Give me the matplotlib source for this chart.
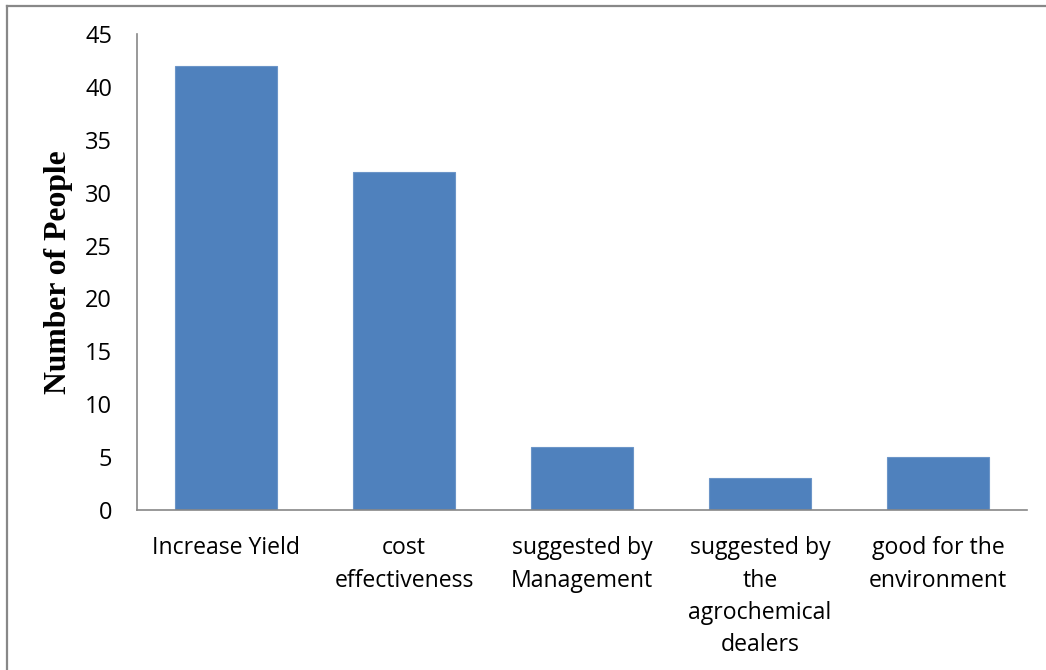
import matplotlib
matplotlib.use("Agg")
import matplotlib.pyplot as plt
from matplotlib.lines import Line2D

categories = [
    "Increase Yield",
    "cost\neffectiveness",
    "suggested by\nManagement",
    "suggested by\nthe\nagrochemical\ndealers",
    "good for the\nenvironment",
]
counts = [42, 32, 6, 3, 5]
y_ticks = [0, 5, 10, 15, 20, 25, 30, 35, 40, 45]

W, H = 1046, 670
fig = plt.figure(figsize=(W / 100, H / 100), dpi=100)
ax = fig.add_axes([137 / W, 1 - 510 / H, (1027 - 137) / W, (510 - 34) / H])

x = list(range(len(categories)))
ax.bar(x, counts, width=1 / 1.75, color="#4F81BD", edgecolor="#6C95C8", linewidth=0.8, zorder=2)

ax.set_xlim(-0.5, len(categories) - 0.5)
ax.set_ylim(0, 45)
ax.set_yticks(y_ticks)
ax.set_xticks(x)
ax.set_xticklabels(categories, fontfamily="Open Sans", fontsize=16.6, linespacing=1.46, va="top")
ax.tick_params(axis="both", length=0, colors="black")
ax.tick_params(axis="y", pad=18, labelsize=17)
ax.tick_params(axis="x", pad=19)
for lbl in ax.get_yticklabels():
    lbl.set_fontfamily("Open Sans")

for side in ("top", "right"):
    ax.spines[side].set_visible(False)
for side in ("left", "bottom"):
    ax.spines[side].set_color("#888888")
    ax.spines[side].set_linewidth(1.2)

ax.set_ylabel("Number of People", fontfamily="Liberation Serif", fontweight="bold", fontsize=22.8)
ax.yaxis.set_label_coords((73 - 137) / (1027 - 137), (510 - 272) / (510 - 34))

# frame lines along the top and left edges of the figure
fig.add_artist(Line2D([6.5 / W, 6.5 / W], [0, 1 - 5.5 / H], transform=fig.transFigure, color="#888888", lw=1.6))
fig.add_artist(Line2D([6.5 / W, 1], [1 - 5.5 / H, 1 - 5.5 / H], transform=fig.transFigure, color="#888888", lw=1.6))

fig.savefig("out.png", dpi=100)
